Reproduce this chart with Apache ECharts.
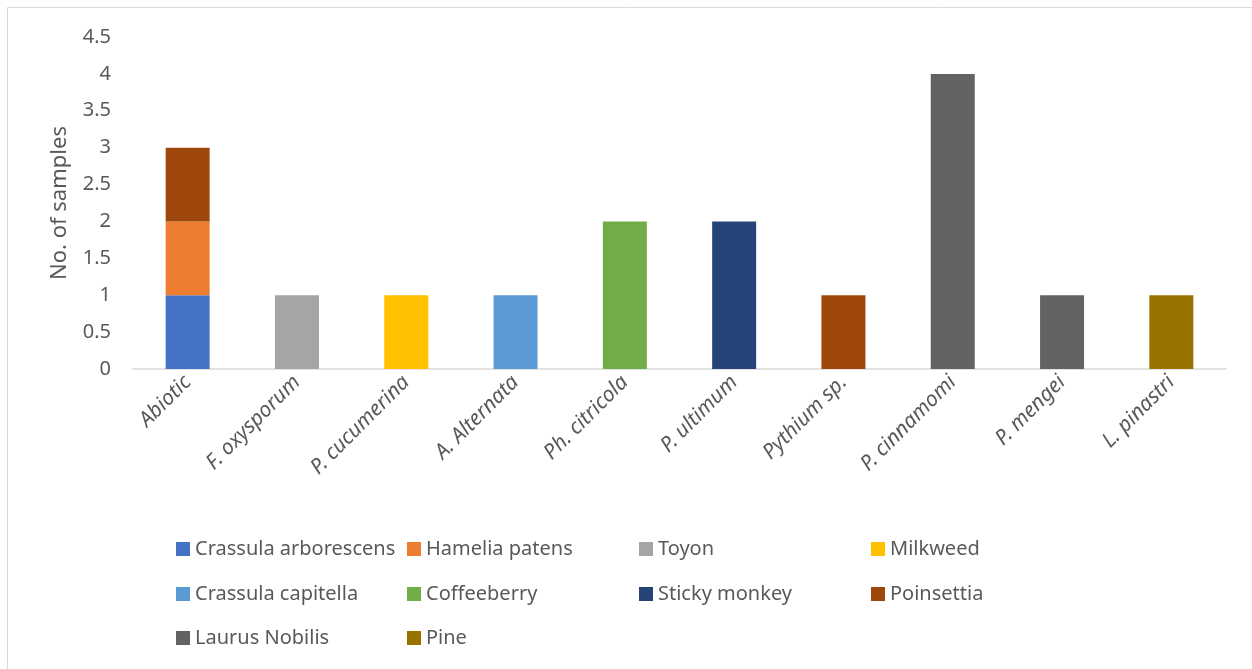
<!DOCTYPE html>
<html>
<head>
<meta charset="utf-8">
<script src="https://cdn.jsdelivr.net/npm/echarts@6/dist/echarts.min.js"></script>
<style>
  html, body { margin: 0; padding: 0; background: #fff; }
  #chart { width: 1252px; height: 669px; }
</style>
</head>
<body>
<div id="chart"></div>
<script>
// pathogens on the x axis
const pathogens = ['Abiotic', 'F. oxysporum', 'P. cucumerina', 'A. Alternata', 'Ph. citricola',
  'P. ultimum', 'Pythium sp.', 'P. cinnamomi', 'P. mengei', 'L. pinastri']

// host plants (series), one value per pathogen
const crassulaArborescens = [1, 0, 0, 0, 0, 0, 0, 0, 0, 0]
const hameliaPatens = [1, 0, 0, 0, 0, 0, 0, 0, 0, 0]
const toyon = [0, 1, 0, 0, 0, 0, 0, 0, 0, 0]
const milkweed = [0, 0, 1, 0, 0, 0, 0, 0, 0, 0]
const crassulaCapitella = [0, 0, 0, 1, 0, 0, 0, 0, 0, 0]
const coffeeberry = [0, 0, 0, 0, 2, 0, 0, 0, 0, 0]
const stickyMonkey = [0, 0, 0, 0, 0, 2, 0, 0, 0, 0]
const poinsettia = [1, 0, 0, 0, 0, 0, 1, 0, 0, 0]
const laurusNobilis = [0, 0, 0, 0, 0, 0, 0, 4, 1, 0]
const pine = [0, 0, 0, 0, 0, 0, 0, 0, 0, 1]

const plantNames = ['Crassula arborescens', 'Hamelia patens', 'Toyon', 'Milkweed',
  'Crassula capitella', 'Coffeeberry', 'Sticky monkey', 'Poinsettia', 'Laurus Nobilis', 'Pine']
const plantValues = [crassulaArborescens, hameliaPatens, toyon, milkweed,
  crassulaCapitella, coffeeberry, stickyMonkey, poinsettia, laurusNobilis, pine]

const colors = ['#4472C4', '#ED7D31', '#A5A5A5', '#FFC000', '#5B9BD5',
  '#70AD47', '#264478', '#9E480E', '#636363', '#997300']

const font = 'Noto Sans'
const textColor = '#595959'

// legend grid: 4 columns, up to 3 rows
const legendColX = [176, 407, 639, 871]
const legendRowY = [550, 595, 639]

let chartDom = document.getElementById('chart')
let myChart = echarts.init(chartDom)

let legends = plantNames.map(function (name, i) {
  return {
    data: [name],
    left: legendColX[i % 4],
    top: legendRowY[Math.floor(i / 4)] - 11,
    padding: 0,
    itemWidth: 14,
    itemHeight: 14,
    icon: 'rect',
    selectedMode: false,
    textStyle: { fontFamily: font, fontSize: 20, color: textColor }
  }
})

let series = plantNames.map(function (name, i) {
  return {
    name: name,
    type: 'bar',
    stack: 'total',
    barWidth: 44,
    itemStyle: { color: colors[i] },
    data: plantValues[i].map(v => (v === 0 ? null : v))
  }
})

let option = {
  animation: false,
  backgroundColor: '#fff',
  graphic: [{
    type: 'rect',
    shape: { x: 7.5, y: 7.5, width: 1260, height: 680 },
    style: { fill: 'none', stroke: '#d9d9d9', lineWidth: 1 },
    silent: true
  }],
  legend: legends,
  grid: { left: 133, right: 26, top: 37, bottom: 300 },
  xAxis: {
    type: 'category',
    data: pathogens,
    axisLine: { lineStyle: { color: '#d9d9d9', width: 1.5 } },
    axisTick: { show: false },
    axisLabel: {
      rotate: 45,
      margin: 10,
      interval: 0,
      fontFamily: font,
      fontStyle: 'italic',
      fontSize: 21,
      color: textColor
    }
  },
  yAxis: {
    type: 'value',
    min: 0,
    max: 4.5,
    interval: 0.5,
    name: 'No. of samples',
    nameLocation: 'middle',
    nameGap: 62,
    nameTextStyle: { fontFamily: font, fontSize: 22, color: textColor },
    axisLine: { show: false },
    axisTick: { show: false },
    splitLine: { show: false },
    axisLabel: { margin: 22, fontFamily: font, fontSize: 20, color: textColor }
  },
  series: series
}

myChart.setOption(option)
window.onresize = function () {
  myChart.resize()
}
</script>
</body>
</html>
